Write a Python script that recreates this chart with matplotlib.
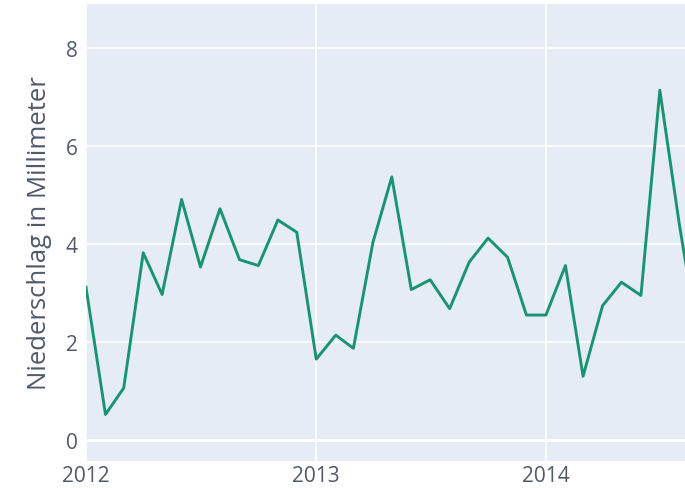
import pandas as pd
import matplotlib.pyplot as plt
import matplotlib.dates as mdates

# Monatlicher Niederschlag
monate = pd.date_range('2012-01-01', periods=33, freq='MS')
niederschlag = [3.12, 0.52, 1.06, 3.82, 2.97, 4.91, 3.53, 4.72, 3.68, 3.56, 4.49, 4.24,
                1.65, 2.14, 1.87, 4.03, 5.37, 3.07, 3.27, 2.68, 3.63, 4.12, 3.73, 2.55,
                2.55, 3.56, 1.30, 2.74, 3.22, 2.95, 7.14, 4.40, 2.00]
jahre = ['2012', '2013', '2014']

plt.rcParams['font.family'] = ['Open Sans', 'DejaVu Sans']

fig = plt.figure(figsize=(6.85, 4.89), dpi=100)
ax = fig.add_axes([0.1255, 0.0552, 0.8745, 0.9346])
ax.set_facecolor('#E5ECF6')

ax.plot(monate, niederschlag, color='#1a9470', lw=2.1, zorder=3)

ax.set_xlim(pd.Timestamp('2012-01-01'), pd.Timestamp('2014-08-10'))
ax.set_ylim(-0.43, 8.9)
ax.set_yticks([0, 2, 4, 6, 8])
ax.set_xticks([pd.Timestamp(j + '-01-01') for j in jahre])
ax.xaxis.set_major_formatter(mdates.DateFormatter('%Y'))

ax.grid(color='white', lw=1.2, zorder=1)
ax.axhline(0, color='white', lw=2.2, zorder=2)
ax.set_axisbelow(True)
for s in ax.spines.values():
    s.set_visible(False)
ax.tick_params(length=0, labelsize=15, colors='#505a6a', pad=6)
ax.tick_params(axis='x', pad=3)

ax.set_ylabel('Niederschlag in Millimeter', fontsize=18.5, color='#505a6a', labelpad=10)

plt.savefig('out.png', dpi=100)
